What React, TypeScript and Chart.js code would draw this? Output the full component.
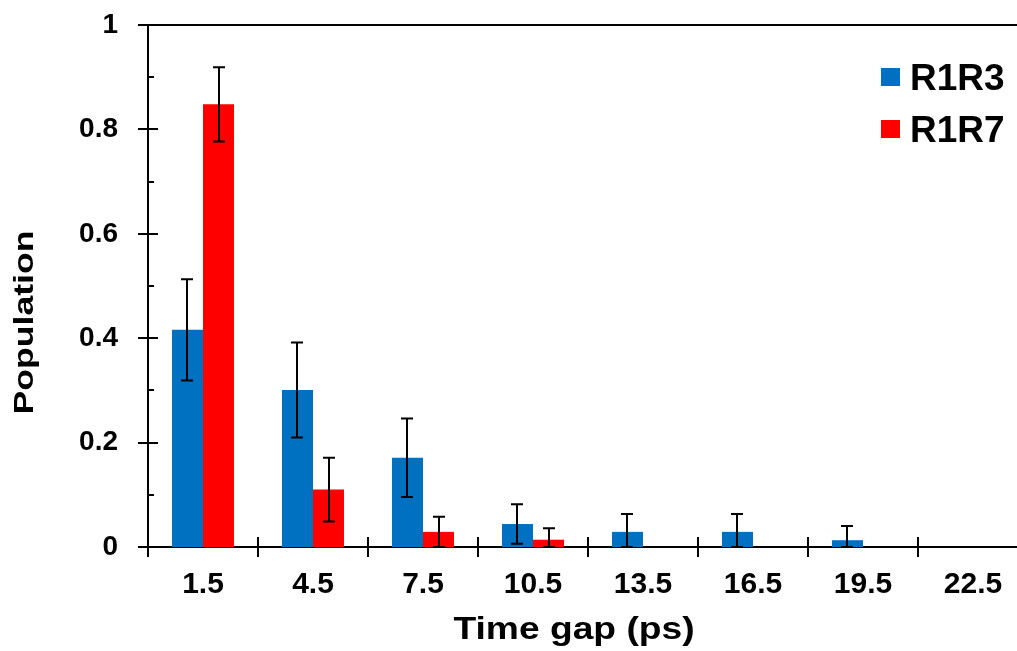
import React, { useEffect, useRef } from "react";
import { Chart, registerables } from "chart.js";

Chart.register(...registerables);

const categories = ["1.5", "4.5", "7.5", "10.5", "13.5", "16.5", "19.5", "22.5"];
const seriesNames = ["R1R3", "R1R7"];
const r1r3 = [0.416, 0.301, 0.171, 0.044, 0.029, 0.029, 0.013, 0];
const r1r3Err = [0.097, 0.091, 0.075, 0.038, 0.034, 0.034, 0.027, 0];
const r1r7 = [0.848, 0.11, 0.029, 0.014, 0, 0, 0, 0];
const r1r7Err = [0.071, 0.061, 0.029, 0.022, 0, 0, 0, 0];
const yTicks = [0, 0.2, 0.4, 0.6, 0.8, 1];
const xTitle = "Time gap (ps)";
const yTitle = "Population";

const FONT = "'Liberation Sans', Arial, Helvetica, sans-serif";
const COLORS = ["#0070C0", "#FF0000"];

const decorPlugin = {
  id: "decor",
  afterDatasetsDraw(chart: any) {
    const ctx = chart.ctx;
    const { left, right, top, bottom } = chart.chartArea;
    const xs = chart.scales.x;
    const ys = chart.scales.y;
    ctx.save();
    ctx.strokeStyle = "#000";
    ctx.lineWidth = 2;
    ctx.lineCap = "butt";

    // error bars
    chart.data.datasets.forEach((ds: any, i: number) => {
      const meta = chart.getDatasetMeta(i);
      meta.data.forEach((el: any, j: number) => {
        const v = ds.data[j];
        const e = ds.errors ? ds.errors[j] : 0;
        if (!e) return;
        const yT = ys.getPixelForValue(v + e);
        const yB = ys.getPixelForValue(Math.max(v - e, 0));
        const x = Math.round(el.x);
        ctx.beginPath();
        ctx.moveTo(x, yT);
        ctx.lineTo(x, yB);
        ctx.moveTo(x - 6, yT);
        ctx.lineTo(x + 6, yT);
        ctx.moveTo(x - 6, yB);
        ctx.lineTo(x + 6, yB);
        ctx.stroke();
      });
    });

    // top border
    ctx.beginPath();
    ctx.moveTo(left - 1, Math.round(top));
    ctx.lineTo(right, Math.round(top));
    ctx.stroke();

    // y tick marks (major crossing, minor inside)
    const yl = Math.round(left);
    ys.ticks.forEach((t: any, k: number) => {
      const yy = Math.round(ys.getPixelForValue(t.value));
      ctx.beginPath();
      ctx.moveTo(yl - 10, yy);
      ctx.lineTo(yl + 10, yy);
      ctx.stroke();
      if (k < ys.ticks.length - 1) {
        const mid = Math.round(ys.getPixelForValue((t.value + ys.ticks[k + 1].value) / 2));
        ctx.beginPath();
        ctx.moveTo(yl, mid);
        ctx.lineTo(yl + 6, mid);
        ctx.stroke();
      }
    });

    // x tick marks at category boundaries
    const yb = Math.round(bottom);
    for (let i = 0; i <= categories.length; i++) {
      const bx = Math.round(xs.getPixelForValue(i - 0.5));
      ctx.beginPath();
      ctx.moveTo(bx, yb - 10);
      ctx.lineTo(bx, yb + 10);
      ctx.stroke();
    }

    // axis titles
    ctx.fillStyle = "#000";
    ctx.textAlign = "center";
    ctx.textBaseline = "alphabetic";
    ctx.save();
    ctx.font = `bold 31px ${FONT}`;
    ctx.translate(left + 426, bottom + 92);
    ctx.scale(1.2, 1);
    ctx.fillText(xTitle, 0, 0);
    ctx.restore();

    ctx.save();
    ctx.font = `bold 28.5px ${FONT}`;
    ctx.translate(left - 114.6, top + 297.5);
    ctx.rotate(-Math.PI / 2);
    ctx.scale(1.25, 1);
    ctx.fillText(yTitle, 0, 0);
    ctx.restore();

    // legend
    ctx.font = `bold 37px ${FONT}`;
    ctx.textAlign = "left";
    chart.data.datasets.forEach((ds: any, i: number) => {
      ctx.fillStyle = ds.backgroundColor;
      ctx.fillRect(right - 147, top + 43 + 52 * i, 19, 18);
      ctx.fillStyle = "#000";
      ctx.fillText(ds.label, right - 118, top + 65 + 52 * i);
    });

    ctx.restore();
  },
};

export default function App() {
  const ref = useRef<HTMLCanvasElement>(null);
  useEffect(() => {
    const chart = new Chart(ref.current as HTMLCanvasElement, {
      type: "bar",
      data: {
        labels: categories,
        datasets: [
          {
            label: seriesNames[0],
            data: r1r3,
            backgroundColor: COLORS[0],
            borderWidth: 0,
            errors: r1r3Err,
          } as any,
          {
            label: seriesNames[1],
            data: r1r7,
            backgroundColor: COLORS[1],
            borderWidth: 0,
            errors: r1r7Err,
          } as any,
        ],
      },
      options: {
        animation: false,
        responsive: false,
        devicePixelRatio: 1,
        maintainAspectRatio: false,
        layout: { padding: { left: 0, top: 25, right: 4, bottom: 0 } },
        datasets: {
          bar: { categoryPercentage: 0.564, barPercentage: 1.0 },
        },
        plugins: {
          legend: { display: false },
          tooltip: { enabled: false },
        },
        scales: {
          x: {
            offset: true,
            grid: { display: false, drawTicks: false },
            border: { display: true, color: "#000", width: 2 },
            ticks: {
              color: "#000",
              font: { family: FONT, size: 30, weight: "bold" },
              padding: 20,
              maxRotation: 0,
              autoSkip: false,
            },
            afterFit: (s: any) => {
              s.height = 104;
            },
          },
          y: {
            min: 0,
            max: 1,
            grid: { display: false, drawTicks: false },
            border: { display: true, color: "#000", width: 2 },
            afterBuildTicks: (s: any) => {
              s.ticks = yTicks.map((v) => ({ value: v }));
            },
            ticks: {
              color: "#000",
              font: { family: FONT, size: 28, weight: "bold" },
              padding: 30,
              callback: (v: any) => String(Math.round(Number(v) * 10) / 10),
            },
            afterFit: (s: any) => {
              s.width = 148;
              s.paddingTop = 0;
              s.paddingBottom = 0;
            },
          },
        },
      },
      plugins: [decorPlugin],
    } as any);
    return () => chart.destroy();
  }, []);
  return (
    <div
      style={{
        position: "fixed",
        left: 0,
        top: 0,
        width: 1017,
        height: 651,
        overflow: "hidden",
        background: "#fff",
      }}
    >
      <canvas ref={ref} width={1032} height={651} style={{ display: "block", width: 1032, height: 651 }} />
    </div>
  );
}
